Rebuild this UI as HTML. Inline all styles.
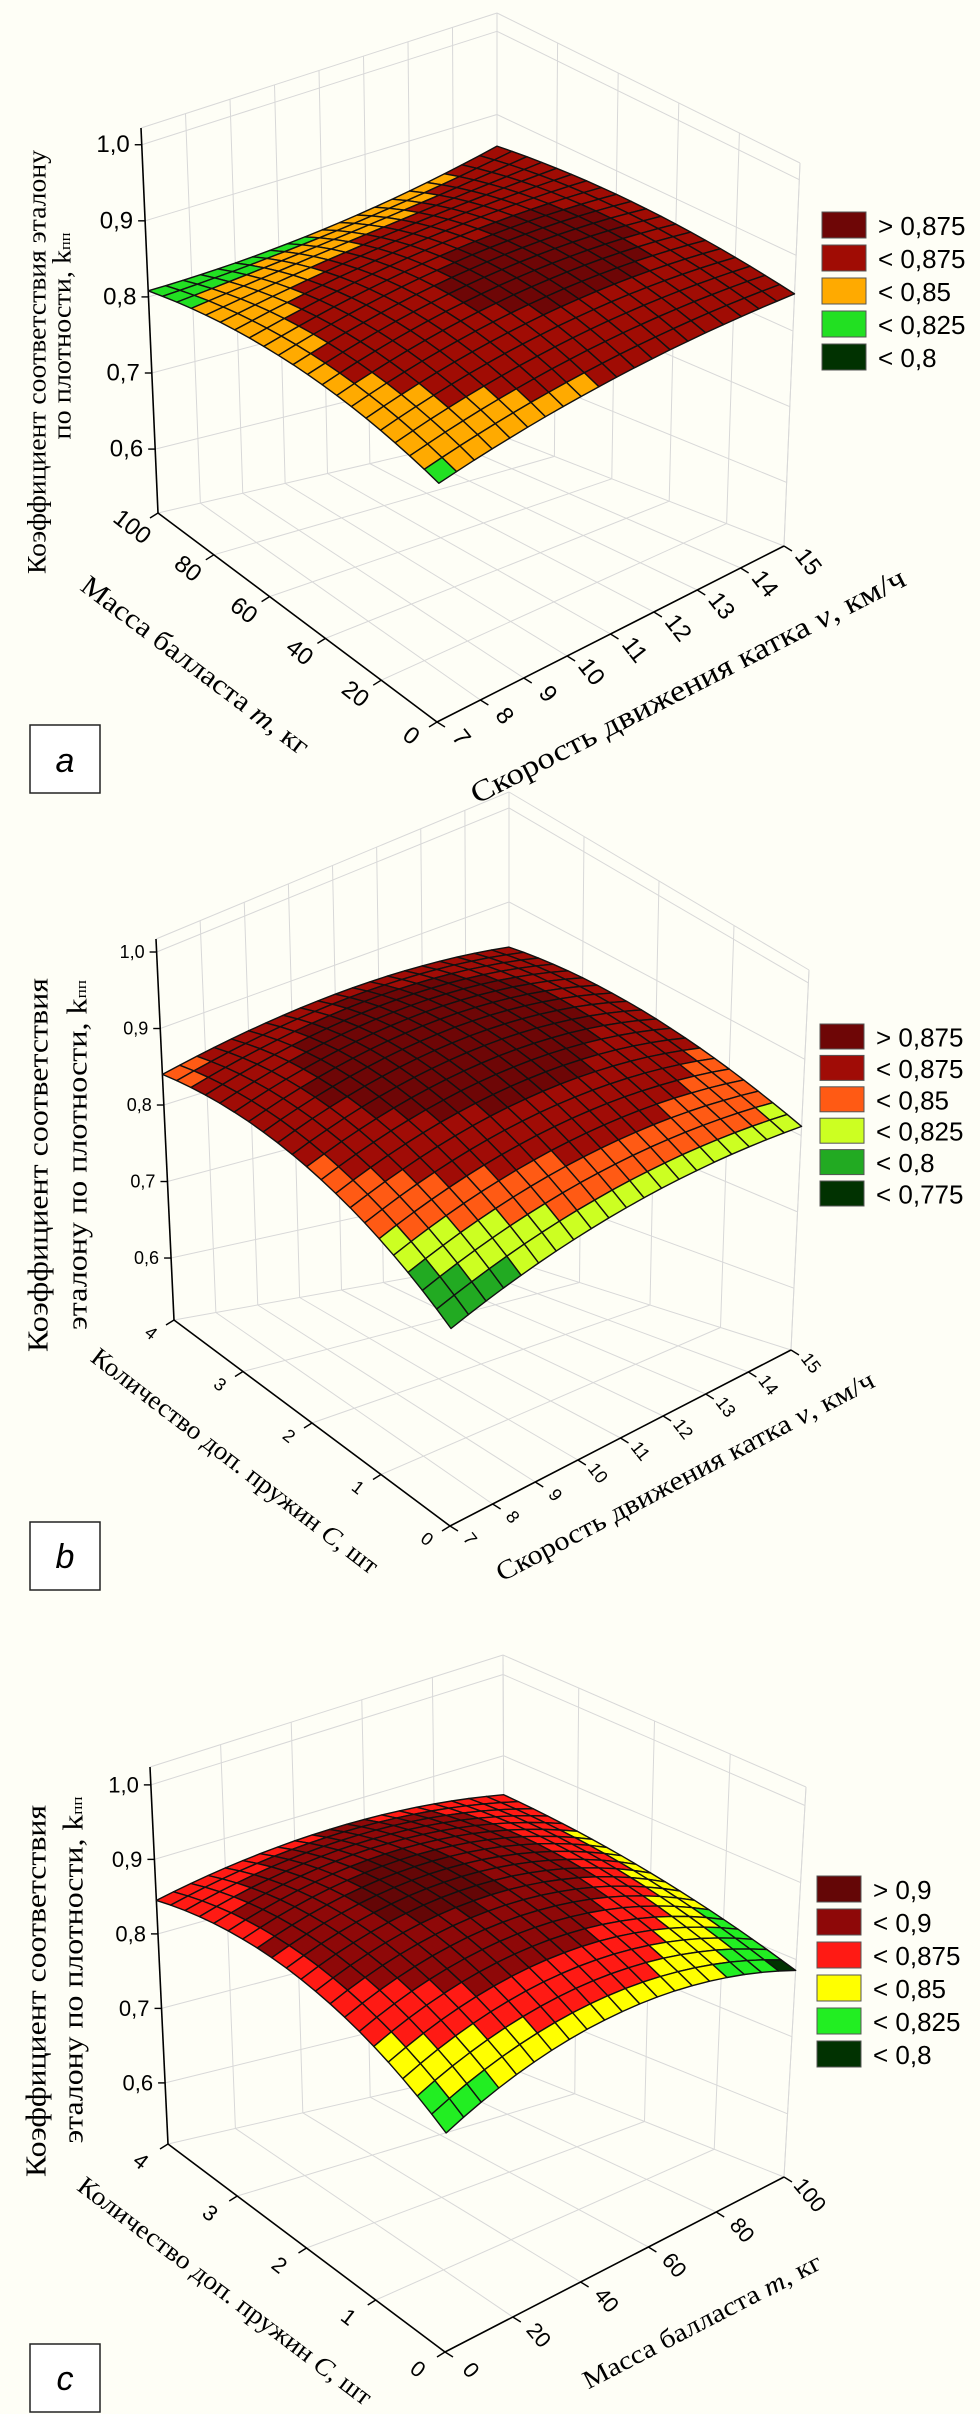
<!DOCTYPE html>
<html><head><meta charset="utf-8">
<style>
html,body{margin:0;padding:0;background:#fefef6;}
svg{display:block;}
.ser{font-family:"Liberation Serif","DejaVu Serif",serif;fill:#000;}
.san{font-family:"Liberation Sans","DejaVu Sans",sans-serif;fill:#000;}
</style></head>
<body>
<svg id="fig" width="980" height="2414" viewBox="0 0 980 2414" xmlns="http://www.w3.org/2000/svg">
<rect x="0" y="0" width="980" height="2414" fill="#fefef6"/>
<g id="panelA"></g>
<g id="panelB"></g>
<g id="panelC"></g>

<text class="ser" transform="translate(37,362) rotate(-90)" text-anchor="middle" dominant-baseline="central" font-size="26" textLength="424" lengthAdjust="spacingAndGlyphs">Коэффициент соответствия эталону</text>
<text class="ser" transform="translate(62,336) rotate(-90)" text-anchor="middle" dominant-baseline="central" font-size="26" textLength="207" lengthAdjust="spacingAndGlyphs">по плотности, k<tspan font-size="15" dy="4">пп</tspan></text>
<text class="ser" transform="translate(195,666) rotate(37)" text-anchor="middle" dominant-baseline="central" font-size="28" textLength="278" lengthAdjust="spacingAndGlyphs">Масса балласта <tspan font-style="italic">m</tspan>, кг</text>
<text class="ser" transform="translate(688,686) rotate(-27)" text-anchor="middle" dominant-baseline="central" font-size="30" textLength="484" lengthAdjust="spacingAndGlyphs">Скорость движения катка <tspan font-style="italic">v</tspan>, км/ч</text>
<rect x="30" y="725" width="70" height="68" fill="#fff" stroke="#222" stroke-width="1.5"/>
<text class="san" x="65" y="761" text-anchor="middle" dominant-baseline="central" font-size="34" font-style="italic">a</text>

<text class="ser" transform="translate(39,1165) rotate(-90)" text-anchor="middle" dominant-baseline="central" font-size="28" textLength="374" lengthAdjust="spacingAndGlyphs">Коэффициент соответствия</text>
<text class="ser" transform="translate(78,1155) rotate(-90)" text-anchor="middle" dominant-baseline="central" font-size="28" textLength="350" lengthAdjust="spacingAndGlyphs">эталону по плотности, k<tspan font-size="15" dy="4">пп</tspan></text>
<text class="ser" transform="translate(235,1461) rotate(37.4)" text-anchor="middle" dominant-baseline="central" font-size="26" textLength="354" lengthAdjust="spacingAndGlyphs">Количество доп. пружин <tspan font-style="italic">C</tspan>, шт</text>
<text class="ser" transform="translate(685,1476) rotate(-27.6)" text-anchor="middle" dominant-baseline="central" font-size="27" textLength="423" lengthAdjust="spacingAndGlyphs">Скорость движения катка <tspan font-style="italic">v</tspan>, км/ч</text>
<rect x="30" y="1522" width="70" height="68" fill="#fff" stroke="#222" stroke-width="1.5"/>
<text class="san" x="65" y="1557" text-anchor="middle" dominant-baseline="central" font-size="34" font-style="italic">b</text>

<text class="ser" transform="translate(37,1991) rotate(-90)" text-anchor="middle" dominant-baseline="central" font-size="28" textLength="372" lengthAdjust="spacingAndGlyphs">Коэффициент соответствия</text>
<text class="ser" transform="translate(74,1970) rotate(-90)" text-anchor="middle" dominant-baseline="central" font-size="28" textLength="347" lengthAdjust="spacingAndGlyphs">эталону по плотности, k<tspan font-size="15" dy="4">пп</tspan></text>
<text class="ser" transform="translate(225,2291) rotate(37)" text-anchor="middle" dominant-baseline="central" font-size="26" textLength="361" lengthAdjust="spacingAndGlyphs">Количество доп. пружин <tspan font-style="italic">C</tspan>, шт</text>
<text class="ser" transform="translate(702,2321) rotate(-27.4)" text-anchor="middle" dominant-baseline="central" font-size="26" textLength="265" lengthAdjust="spacingAndGlyphs">Масса балласта <tspan font-style="italic">m</tspan>, кг</text>
<rect x="30" y="2344" width="70" height="68" fill="#fff" stroke="#222" stroke-width="1.5"/>
<text class="san" x="65" y="2379" text-anchor="middle" dominant-baseline="central" font-size="34" font-style="italic">c</text>
</svg>

<script>
// ---------- Panel a data ----------
const aSpeedTicks = [7, 8, 9, 10, 11, 12, 13, 14, 15];
const aMassTicks = [0, 20, 40, 60, 80, 100];
const aZTicks = [0.6, 0.7, 0.8, 0.9, 1.0];
const aZTickLabels = ["0,6", "0,7", "0,8", "0,9", "1,0"];
// surface samples: rows = mass (0, 50, 100), cols = speed (7, 11, 15)
const aZmass0 = [0.818, 0.848, 0.849];
const aZmass50 = [0.842, 0.878, 0.870];
const aZmass100 = [0.808, 0.822, 0.862];
const aThresholds = [0.875, 0.85, 0.825, 0.8];
const aLegendLabels = ["> 0,875", "< 0,875", "< 0,85", "< 0,825", "< 0,8"];

// ---------- Panel b data ----------
const bSpeedTicks = [7, 8, 9, 10, 11, 12, 13, 14, 15];
const bSpringTicks = [0, 1, 2, 3, 4];
const bZTicks = [0.6, 0.7, 0.8, 0.9, 1.0];
const bZTickLabels = ["0,6", "0,7", "0,8", "0,9", "1,0"];
// rows = springs (0, 2, 4), cols = speed (7, 11, 15)
const bZspr0 = [0.768, 0.815, 0.812];
const bZspr2 = [0.848, 0.888, 0.855];
const bZspr4 = [0.840, 0.866, 0.852];
const bThresholds = [0.875, 0.85, 0.825, 0.8, 0.775];
const bLegendLabels = ["> 0,875", "< 0,875", "< 0,85", "< 0,825", "< 0,8", "< 0,775"];

// ---------- Panel c data ----------
const cMassTicks = [0, 20, 40, 60, 80, 100];
const cSpringTicks = [0, 1, 2, 3, 4];
const cZTicks = [0.6, 0.7, 0.8, 0.9, 1.0];
const cZTickLabels = ["0,6", "0,7", "0,8", "0,9", "1,0"];
// rows = springs (0, 2, 4), cols = mass (0, 50, 100)
const cZspr0 = [0.795, 0.842, 0.786];
const cZspr2 = [0.868, 0.902, 0.832];
const cZspr4 = [0.845, 0.872, 0.852];
const cThresholds = [0.9, 0.875, 0.85, 0.825, 0.8];
const cLegendLabels = ["> 0,9", "< 0,9", "< 0,875", "< 0,85", "< 0,825", "< 0,8"];

const NS = "http://www.w3.org/2000/svg";
function mk(tag, attrs, parent) {
  const e = document.createElementNS(NS, tag);
  for (const k in attrs) e.setAttribute(k, attrs[k]);
  parent.appendChild(e);
  return e;
}
function lerp(a, b, t) { return a + (b - a) * t; }
function bil(P, u, w) {
  const x = (1-u)*(1-w)*P.F[0] + u*(1-w)*P.R[0] + (1-u)*w*P.L[0] + u*w*P.B[0];
  const y = (1-u)*(1-w)*P.F[1] + u*(1-w)*P.R[1] + (1-u)*w*P.L[1] + u*w*P.B[1];
  return [x, y];
}
function lag(s) { return [2*(s-0.5)*(s-1), -4*s*(s-1), 2*s*(s-0.5)]; }

function drawPanel(g, cfg) {
  const proj = (u, w, z) => {
    const f = bil(cfg.floor, u, w), c = bil(cfg.ceil, u, w);
    const t = (z - cfg.zmin) / (cfg.zmax - cfg.zmin);
    return [lerp(f[0], c[0], t), lerp(f[1], c[1], t)];
  };
  const su = v => (v - cfg.uDom[0]) / (cfg.uDom[1] - cfg.uDom[0]);
  const sw = v => (v - cfg.wDom[0]) / (cfg.wDom[1] - cfg.wDom[0]);
  const grid = cfg.grid;
  const zAt = (u, w) => {
    const lu = lag(u), lw = lag(w); let s = 0;
    for (let i = 0; i < 3; i++) for (let j = 0; j < 3; j++) s += lw[i] * lu[j] * grid[i][j];
    return s;
  };
  const line = (p, q, col, wdt, name) => {
    const l = mk("line", {x1: p[0], y1: p[1], x2: q[0], y2: q[1], stroke: col, "stroke-width": wdt}, g);
    
    
  };
  const gc = "#d8d8d8", z0 = cfg.zmin, z1 = cfg.zmax;
  cfg.uTicks.forEach(v => line(proj(su(v),0,z0), proj(su(v),1,z0), gc, 1, 'floor-grid-line'));
  cfg.wTicks.forEach(v => line(proj(0,sw(v),z0), proj(1,sw(v),z0), gc, 1, 'floor-grid-line'));
  cfg.zTicks.forEach(z => {
    line(proj(0,1,z), proj(1,1,z), gc, 1, 'wall-grid-line');
    line(proj(1,1,z), proj(1,0,z), gc, 1, 'wall-grid-line');
  });
  cfg.uTicks.forEach(v => line(proj(su(v),1,z0), proj(su(v),1,z1), gc, 1, 'wall-grid-line'));
  cfg.wTicks.forEach(v => line(proj(1,sw(v),z0), proj(1,sw(v),z1), gc, 1, 'wall-grid-line'));
  line(proj(0,1,z1), proj(1,1,z1), gc, 1, 'box-edge');
  line(proj(1,1,z1), proj(1,0,z1), gc, 1, 'box-edge');
  line(proj(1,0,z0), proj(1,0,z1), gc, 1, 'box-edge');
  line(proj(0,1,z0), proj(0,1,z1), "#000", 1.6, 'z-axis-line');
  line(proj(0,1,z0), proj(0,0,z0), "#000", 1.6, 'w-axis-line');
  line(proj(0,0,z0), proj(1,0,z0), "#000", 1.6, 'u-axis-line');
  cfg.zTicks.forEach((z, i) => {
    const p = proj(0,1,z);
    line([p[0]-7,p[1]], p, "#000", 1.4, 'z-tick');
    const t = mk("text", {x: p[0]-12, y: p[1], "text-anchor": "end", "dominant-baseline": "central", "font-size": cfg.tickFont, class: "san"}, g);
    
    
    t.textContent = cfg.zLabels[i];
  });
  cfg.wTicks.forEach(v => {
    const p = proj(0, sw(v), z0);
    line([p[0]-8,p[1]+5], p, "#000", 1.4, 'w-tick');
    const t = mk("text", {"text-anchor": "middle", "dominant-baseline": "central", "font-size": cfg.tickFont, class: "san",
      transform: "translate(" + (p[0]+cfg.wOff[0]) + "," + (p[1]+cfg.wOff[1]) + ") rotate(" + cfg.wRot + ")"}, g);
    
    
    t.textContent = String(v);
  });
  cfg.uTicks.forEach(v => {
    const p = proj(su(v), 0, z0);
    line([p[0]+8,p[1]+5], p, "#000", 1.4, 'u-tick');
    const t = mk("text", {"text-anchor": "middle", "dominant-baseline": "central", "font-size": cfg.tickFont, class: "san",
      transform: "translate(" + (p[0]+cfg.uOff[0]) + "," + (p[1]+cfg.uOff[1]) + ") rotate(" + cfg.uRot + ")"}, g);
    
    
    t.textContent = String(v);
  });
  const N = 20, cells = [];
  for (let i = 0; i < N; i++) for (let j = 0; j < N; j++) cells.push([i, j]);
  cells.sort((a, b) => (b[0] + b[1]) - (a[0] + a[1]));
  const sg = mk("g", {}, g);
  
  
  cells.forEach(([i, j]) => {
    const u0 = i/N, u1 = (i+1)/N, w0 = j/N, w1 = (j+1)/N;
    const pts = [[u0,w0],[u1,w0],[u1,w1],[u0,w1]].map(([u,w]) => proj(u, w, zAt(u, w)));
    const zc = zAt((u0+u1)/2, (w0+w1)/2);
    let k = 0; while (k < cfg.thr.length && zc <= cfg.thr[k]) k++;
    const poly = mk("polygon", {points: pts.map(p => p[0].toFixed(1)+","+p[1].toFixed(1)).join(" "),
      fill: cfg.colors[k], stroke: "#111", "stroke-width": 1.4, "stroke-linejoin": "round"}, sg);
    
    
  });
  cfg.legend.forEach((lab, i) => {
    const y = cfg.legY + i * cfg.legStep;
    const r = mk("rect", {x: cfg.legX, y: y, width: 44, height: cfg.legH, fill: cfg.colors[i], stroke: "#555", "stroke-width": 1}, g);
    
    
    const t = mk("text", {x: cfg.legX + 56, y: y + cfg.legH/2 + 1, "dominant-baseline": "central", "font-size": cfg.legFont, class: "san"}, g);
    
    
    t.textContent = lab;
  });
}

drawPanel(document.getElementById("panelA"), {
  floor: {F:[437,722], R:[784,546], L:[158,513], B:[497,434]},
  ceil:  {F:[440,322], R:[800,163], L:[141,128], B:[497,13]},
  zmin: 0.516, zmax: 1.022, uDom: [7,15], wDom: [0,100],
  uTicks: aSpeedTicks, wTicks: aMassTicks, zTicks: aZTicks, zLabels: aZTickLabels,
  grid: [aZmass0, aZmass50, aZmass100], thr: aThresholds,
  colors: ["#6e0606", "#a00c04", "#ffaa00", "#22e022", "#013201"],
  legend: aLegendLabels, legX: 822, legY: 212, legStep: 33, legH: 26, legFont: 26,
  tickFont: 24, wOff: [-26,14], wRot: 38, uOff: [24,16], uRot: 52
});
drawPanel(document.getElementById("panelB"), {
  floor: {F:[450,1526], R:[791,1350], L:[174,1320], B:[509,1260]},
  ceil:  {F:[452,1131], R:[809,970], L:[156,939], B:[509,792]},
  zmin: 0.519, zmax: 1.017, uDom: [7,15], wDom: [0,4],
  uTicks: bSpeedTicks, wTicks: bSpringTicks, zTicks: bZTicks, zLabels: bZTickLabels,
  grid: [bZspr0, bZspr2, bZspr4], thr: bThresholds,
  colors: ["#6e0606", "#a00c06", "#ff5a14", "#ccff22", "#22aa22", "#013201"],
  legend: bLegendLabels, legX: 820, legY: 1024, legStep: 31.4, legH: 25, legFont: 26,
  tickFont: 18, wOff: [-23,13], wRot: 38, uOff: [20,13], uRot: 52
});
drawPanel(document.getElementById("panelC"), {
  floor: {F:[445,2352], R:[784,2177], L:[168,2144], B:[505,2066]},
  ceil:  {F:[447,1952], R:[806,1787], L:[150,1767], B:[503,1655]},
  zmin: 0.518, zmax: 1.024, uDom: [0,100], wDom: [0,4],
  uTicks: cMassTicks, wTicks: cSpringTicks, zTicks: cZTicks, zLabels: cZTickLabels,
  grid: [cZspr0, cZspr2, cZspr4], thr: cThresholds,
  colors: ["#640606", "#8e0808", "#ff1a14", "#ffff00", "#22ee22", "#013201"],
  legend: cLegendLabels, legX: 817, legY: 1876, legStep: 33, legH: 26, legFont: 26,
  tickFont: 22, wOff: [-27,17], wRot: 38, uOff: [26,18], uRot: 50
});
</script>
</body></html>
